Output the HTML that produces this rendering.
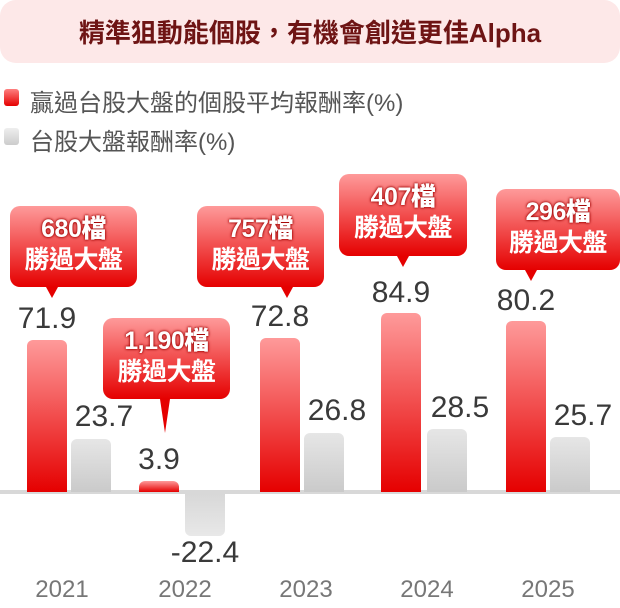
<!DOCTYPE html>
<html><head><meta charset="utf-8"><style>
body{margin:0;width:620px;height:608px;background:#fff;position:relative;overflow:hidden;font-family:"Liberation Sans","Noto Sans CJK TC",sans-serif}
.a{position:absolute}
.title{left:0;top:0;width:620px;height:63px;background:#fde8e8;border-radius:16px;color:#6e1414;font-weight:bold;font-size:26px;text-align:center;line-height:66px}
.leg{left:30px;font-size:24px;color:#555}
.sq{position:absolute;left:4px;width:15px;height:17px;border-radius:3px}
.r{background:linear-gradient(#fe9a9a,#e50000);border-radius:6px 6px 0 0}
.g{background:linear-gradient(#e6e6e6,#cacaca);border-radius:6px 6px 0 0}
.v{font-size:30px;color:#3a3a3a;text-align:center;width:90px}
.y{font-size:24px;color:#777;text-align:center;width:80px;top:576px}
.cb{background:linear-gradient(#fe9a9a,#e50000);border-radius:10px;color:#fff;text-align:center;font-weight:bold;font-size:25px;line-height:31px;padding-top:8px;box-sizing:border-box;letter-spacing:-0.5px}
.cb b{text-shadow:0 0 3px #a00000,0 0 2px #a00000}
.tip{width:0;height:0;border-left:6px solid transparent;border-right:6px solid transparent;border-top:11px solid #e50000}
</style></head><body>
<div class="a title">精準狙動能個股，有機會創造更佳Alpha</div>
<div class="a sq" style="top:89px;background:linear-gradient(#fe8080,#e50000)"></div>
<div class="a leg" style="top:83px">贏過台股大盤的個股平均報酬率(%)</div>
<div class="a sq" style="top:128px;background:linear-gradient(#eee,#ccc)"></div>
<div class="a leg" style="top:122px">台股大盤報酬率(%)</div>

<div class="a" style="left:0;top:490px;width:620px;height:4px;background:#d8d8d8"></div>

<div class="a r" style="left:27px;top:340px;width:40px;height:152px"></div>
<div class="a g" style="left:71px;top:439px;width:40px;height:53px"></div>
<div class="a r" style="left:139px;top:481px;width:40px;height:11px"></div>
<div class="a" style="left:185px;top:494px;width:40px;height:42px;background:linear-gradient(#d8d8d8,#e8e8e8);border-radius:0 0 6px 6px"></div>
<div class="a r" style="left:260px;top:338px;width:40px;height:154px"></div>
<div class="a g" style="left:304px;top:433px;width:40px;height:59px"></div>
<div class="a r" style="left:381px;top:313px;width:40px;height:179px"></div>
<div class="a g" style="left:427px;top:429px;width:40px;height:63px"></div>
<div class="a r" style="left:506px;top:321px;width:40px;height:171px"></div>
<div class="a g" style="left:550px;top:437px;width:40px;height:55px"></div>

<div class="a v" style="left:2px;top:302px">71.9</div>
<div class="a v" style="left:59px;top:400px">23.7</div>
<div class="a v" style="left:114px;top:443px">3.9</div>
<div class="a v" style="left:160px;top:536px">-22.4</div>
<div class="a v" style="left:235px;top:300px">72.8</div>
<div class="a v" style="left:292px;top:394px">26.8</div>
<div class="a v" style="left:356px;top:276px">84.9</div>
<div class="a v" style="left:415px;top:391px">28.5</div>
<div class="a v" style="left:481px;top:284px">80.2</div>
<div class="a v" style="left:538px;top:399px">25.7</div>

<div class="a y" style="left:22px">2021</div>
<div class="a y" style="left:145px">2022</div>
<div class="a y" style="left:266px">2023</div>
<div class="a y" style="left:387px">2024</div>
<div class="a y" style="left:508px">2025</div>

<div class="a cb" style="left:10px;top:206px;width:127px;height:81px"><b>680檔</b><br>勝過大盤</div>
<div class="a tip" style="left:46px;top:287px"></div>
<div class="a cb" style="left:103px;top:318px;width:127px;height:81px"><b>1,190檔</b><br>勝過大盤</div>
<div class="a tip" style="left:160px;top:399px;border-top-width:34px;border-left-width:5px;border-right-width:5px"></div>
<div class="a cb" style="left:197px;top:206px;width:127px;height:81px"><b>757檔</b><br>勝過大盤</div>
<div class="a tip" style="left:281px;top:287px"></div>
<div class="a cb" style="left:339px;top:174px;width:128px;height:82px"><b>407檔</b><br>勝過大盤</div>
<div class="a tip" style="left:397px;top:256px"></div>
<div class="a cb" style="left:496px;top:189px;width:124px;height:81px"><b>296檔</b><br>勝過大盤</div>
<div class="a tip" style="left:525px;top:270px"></div>
</body></html>
